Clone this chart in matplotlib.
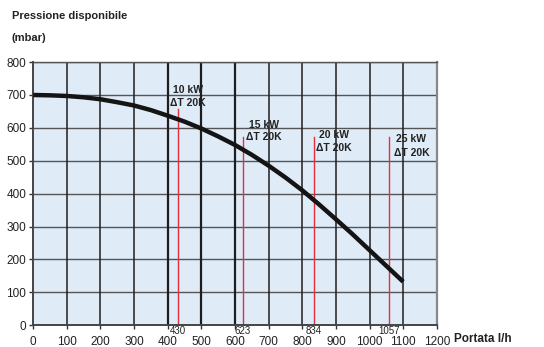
import matplotlib.pyplot as plt
import numpy as np

plt.rcParams['font.family'] = ['Liberation Sans', 'DejaVu Sans']

# pump curve
flow = [0, 50, 100, 150, 200, 250, 300, 350, 400, 450, 500, 550,
        600, 650, 700, 750, 800, 850, 900, 950, 1000, 1050, 1100]
pressure = [700, 699, 697, 693, 687, 678, 668, 654, 637, 619, 598, 574,
            548, 518, 485, 449, 410, 367, 322, 276, 228, 180, 132]

# operating points
point_flow = [430, 623, 834, 1057]
point_top = [657, 572, 572, 572]
point_kw = ["10 kW", "15 kW", "20 kW", "25 kW"]

x_ticks = list(range(0, 1300, 100))
y_ticks = list(range(0, 900, 100))

fig = plt.figure(figsize=(5.44, 3.47), dpi=100)
ax = fig.add_axes([0.061, 0.063, 0.742, 0.758])
ax.set_facecolor('#dfebf7')
ax.set_xlim(0, 1200)
ax.set_ylim(0, 800)

for y in y_ticks[1:]:
    ax.axhline(y, color='#555555', lw=1.0, zorder=1)
for x in x_ticks[1:-1]:
    lw = 1.6 if x in (400, 500, 600) else 1.1
    ax.axvline(x, color='#1e1e1e', lw=lw, zorder=1)

# red lines for the operating points
for fx, top in zip(point_flow, point_top):
    ax.plot([fx, fx], [0, top], color='#e2303c', lw=1.0, zorder=2)

ax.plot(flow, pressure, color='#141414', lw=3.2, solid_capstyle='butt', zorder=3)

# labels
offs = [(-22, 715, 675), (10, 608, 572), (8, 578, 538), (15, 566, 523)]
for fx, kw, (dx, y1, y2) in zip(point_flow, point_kw, offs):
    ax.text(fx + dx + 8, y1, kw, fontsize=7.5, fontweight='bold', color='#222222',
            ha='left', va='center', zorder=4)
    ax.text(fx + dx, y2, "\u0394T 20K", fontsize=7.5, fontweight='bold', color='#222222',
            ha='left', va='center', zorder=4)

ax.set_xticks(x_ticks)
ax.set_yticks(y_ticks)
ax.tick_params(axis='x', length=3, pad=5, labelsize=8.5, colors='#333333',
               labelcolor='#222222', width=1)
ax.tick_params(axis='y', length=3, pad=2, labelsize=8.5, colors='#333333',
               labelcolor='#222222', width=1)

for fx in point_flow:
    ax.text(fx, -4, str(fx), fontsize=7, color='#222222', ha='center', va='top',
            transform=ax.transData, clip_on=False)

for side in ['left', 'bottom']:
    ax.spines[side].set_color('#444444')
    ax.spines[side].set_linewidth(1.4)
ax.spines['right'].set_color('#888888')
ax.spines['right'].set_linewidth(1.6)
ax.spines['top'].set_color('#555555')
ax.spines['top'].set_linewidth(1.0)

fig.text(0.022, 0.955, "Pressione disponibile", fontsize=8, fontweight='bold',
         color='#222222', ha='left', va='center')
fig.text(0.022, 0.89, "(mbar)", fontsize=8, fontweight='bold',
         color='#222222', ha='left', va='center')
fig.text(0.835, 0.022, "Portata l/h", fontsize=8.5, fontweight='bold',
         color='#222222', ha='left', va='center')

fig.savefig('out.png', dpi=100)
